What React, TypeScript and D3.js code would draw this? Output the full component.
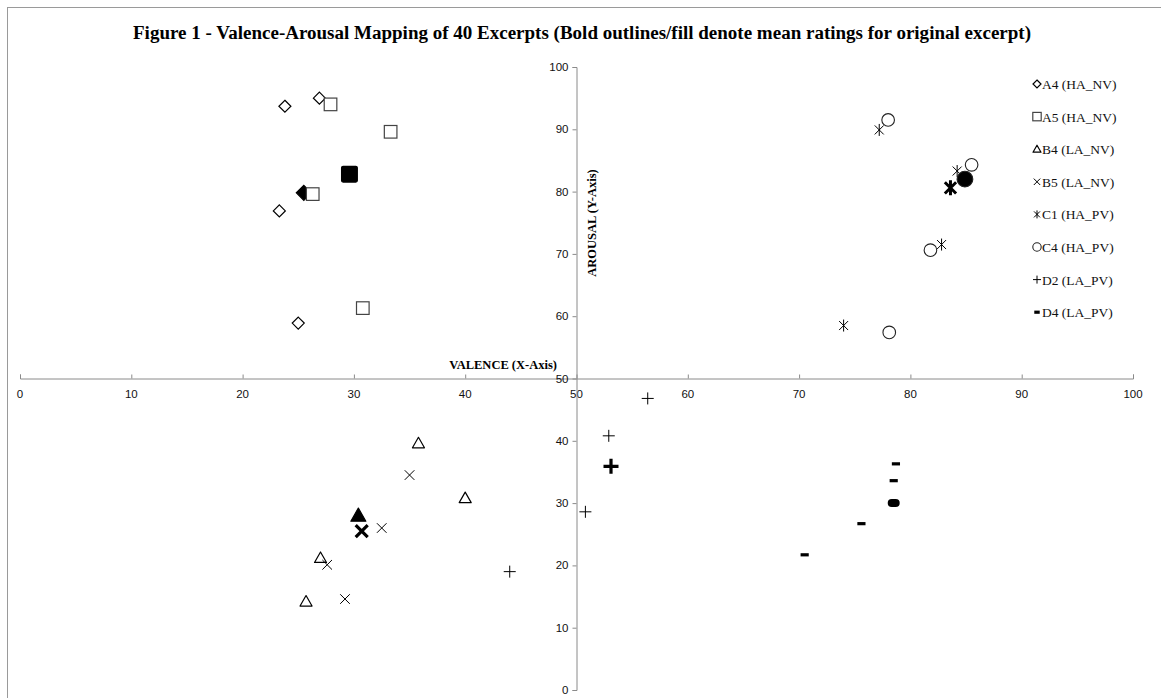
import React, { useEffect, useRef } from "react";
import * as d3 from "d3";

// ratings per excerpt: [valence, arousal]; *Mean = original excerpt (bold)
const a4Points = [[23.8, 93.7], [26.9, 95.0], [23.3, 76.9], [25.0, 58.9]];
const a4Mean = [25.5, 79.8];
const a5Points = [[27.9, 94.0], [33.3, 89.6], [26.3, 79.6], [30.8, 61.3]];
const a5Mean = [29.6, 82.8];
const b4Points = [[35.8, 39.6], [40.0, 30.8], [27.0, 21.2], [25.7, 14.2]];
const b4Mean = [30.4, 28.0];
const b5Points = [[35.0, 34.5], [32.5, 26.0], [27.6, 20.1], [29.2, 14.6]];
const b5Mean = [30.7, 25.5];
const c1Points = [[77.2, 89.9], [84.2, 83.3], [82.8, 71.5], [74.0, 58.5]];
const c1Mean = [83.6, 80.6];
const c4Points = [[78.0, 91.5], [85.5, 84.3], [81.8, 70.6], [78.1, 57.4]];
const c4Mean = [84.9, 82.0];
const d2Points = [[56.4, 46.8], [52.9, 40.8], [50.8, 28.6], [44.0, 19.0]];
const d2Mean = [53.1, 35.9];
const d4Points = [[78.7, 36.3], [78.5, 33.6], [75.6, 26.7], [70.5, 21.7]];
const d4Mean = [78.5, 30.0];

const seriesNames = ["A4 (HA_NV)", "A5 (HA_NV)", "B4 (LA_NV)", "B5 (LA_NV)", "C1 (HA_PV)", "C4 (HA_PV)", "D2 (LA_PV)", "D4 (LA_PV)"];
const seriesShapes = ["diamond", "square", "triangle", "x", "star", "circle", "plus", "dash"];
const seriesPoints = [a4Points, a5Points, b4Points, b5Points, c1Points, c4Points, d2Points, d4Points];
const seriesMeans = [a4Mean, a5Mean, b4Mean, b5Mean, c1Mean, c4Mean, d2Mean, d4Mean];

const xTicks = [0, 10, 20, 30, 40, 50, 60, 70, 80, 90, 100];
const yTicks = [0, 10, 20, 30, 40, 50, 60, 70, 80, 90, 100];

const W = 1161;
const H = 698;

// draw one marker centred on (0,0) into group g
function marker(g, shape, bold, s) {
  const k = bold ? 1.25 : 1;
  const r = s * k;
  if (shape === "diamond") {
    g.append("path").attr("d", `M0,${-r}L${r},0L0,${r}L${-r},0Z`)
      .attr("fill", bold ? "#000" : "#fff").attr("stroke", "#000").attr("stroke-width", 1.2);
  } else if (shape === "square") {
    const h = r * 1.05;
    g.append("rect").attr("x", -h).attr("y", -h).attr("width", 2 * h).attr("height", 2 * h)
      .attr("rx", bold ? 1.5 : 0)
      .attr("fill", bold ? "#000" : "#fff").attr("stroke", bold ? "#000" : "#444").attr("stroke-width", 1.2);
  } else if (shape === "triangle") {
    g.append("path").attr("d", `M0,${-r}L${r},${r * 0.75}L${-r},${r * 0.75}Z`)
      .attr("fill", bold ? "#000" : "#fff").attr("stroke", "#000").attr("stroke-width", 1.2)
      .attr("stroke-linejoin", "round");
  } else if (shape === "circle") {
    g.append("circle").attr("r", r * 1.05)
      .attr("fill", bold ? "#000" : "#fff").attr("stroke", "#222").attr("stroke-width", 1.1);
  } else if (shape === "x") {
    const a = r * 0.8;
    g.append("path").attr("d", `M${-a},${-a}L${a},${a}M${-a},${a}L${a},${-a}`)
      .attr("stroke", "#000").attr("stroke-width", bold ? 3.2 : 1).attr("fill", "none");
  } else if (shape === "star") {
    const a = r * 0.75;
    g.append("path").attr("d", `M${-a},${-a}L${a},${a}M${-a},${a}L${a},${-a}M0,${-r}L0,${r}`)
      .attr("stroke", "#000").attr("stroke-width", bold ? 3 : 1).attr("fill", "none");
  } else if (shape === "plus") {
    g.append("path").attr("d", `M${-r},0L${r},0M0,${-r}L0,${r}`)
      .attr("stroke", "#000").attr("stroke-width", bold ? 3.2 : 1).attr("fill", "none");
  } else if (shape === "dash") {
    if (bold) {
      g.append("rect").attr("x", -6).attr("y", -4).attr("width", 12).attr("height", 8)
        .attr("rx", 4).attr("fill", "#000");
    } else {
      const w = s * 0.68;
      g.append("rect").attr("x", -w).attr("y", -1.6).attr("width", 2 * w).attr("height", 3.2).attr("fill", "#000");
    }
  }
}

export default function App() {
  const svgRef = useRef(null);

  useEffect(() => {
    const svg = d3.select(svgRef.current);
    svg.selectAll("*").remove();

    const x = d3.scaleLinear().domain([0, 100]).range([20, 1133]);
    const y = d3.scaleLinear().domain([0, 100]).range([690, 67]);

    // chart area border
    svg.append("rect").attr("x", 7.5).attr("y", 7.5).attr("width", W).attr("height", H)
      .attr("fill", "#fff").attr("stroke", "#9a9a9a");

    svg.append("text").attr("x", 582).attr("y", 39).attr("text-anchor", "middle")
      .attr("font-family", "Liberation Serif").attr("font-weight", "bold").attr("font-size", 18)
      .attr("textLength", 898).attr("lengthAdjust", "spacingAndGlyphs")
      .text("Figure 1 - Valence-Arousal Mapping of 40 Excerpts (Bold outlines/fill denote mean ratings for original excerpt)");

    const axisColor = "#8a8a8a";
    // x axis (crosses at arousal 50)
    const xAxis = svg.append("g").attr("transform", `translate(0,${y(50)})`)
      .call(d3.axisTop(x).tickValues(xTicks).tickSize(4).tickFormat(() => ""));
    xAxis.select(".domain").attr("stroke", axisColor);
    xAxis.selectAll(".tick line").attr("stroke", axisColor);
    svg.append("g").selectAll("text").data(xTicks).enter().append("text")
      .attr("x", (d) => x(d)).attr("y", y(50) + 19).attr("text-anchor", "middle")
      .attr("font-family", "Liberation Sans").attr("font-size", 11.5).attr("fill", "#111")
      .text((d) => d);

    // y axis (crosses at valence 50)
    const yAxis = svg.append("g").attr("transform", `translate(${x(50)},0)`)
      .call(d3.axisLeft(y).tickValues(yTicks).tickSize(4).tickFormat(() => ""));
    yAxis.select(".domain").attr("stroke", axisColor);
    yAxis.selectAll(".tick line").attr("stroke", axisColor);
    svg.append("g").selectAll("text").data(yTicks).enter().append("text")
      .attr("x", x(50) - 8).attr("y", (d) => y(d) + 4).attr("text-anchor", "end")
      .attr("font-family", "Liberation Sans").attr("font-size", 11.5).attr("fill", "#111")
      .text((d) => d);

    svg.append("text").attr("x", 557).attr("y", 369).attr("text-anchor", "end")
      .attr("font-family", "Liberation Serif").attr("font-weight", "bold").attr("font-size", 12.5)
      .text("VALENCE (X-Axis)");
    svg.append("text").attr("transform", `translate(596,223) rotate(-90)`).attr("text-anchor", "middle")
      .attr("font-family", "Liberation Serif").attr("font-weight", "bold").attr("font-size", 12.5)
      .text("AROUSAL (Y-Axis)");

    // points
    const plot = svg.append("g");
    seriesShapes.forEach((shape, i) => {
      seriesPoints[i].forEach((p) => {
        const g = plot.append("g").attr("transform", `translate(${x(p[0])},${y(p[1])})`);
        marker(g, shape, false, 6);
      });
      const m = seriesMeans[i];
      const gm = plot.append("g").attr("transform", `translate(${x(m[0])},${y(m[1])})`);
      marker(gm, shape, true, 6);
    });

    // legend
    const legend = svg.append("g");
    seriesNames.forEach((name, i) => {
      const ly = 84 + i * 32.6;
      const g = legend.append("g").attr("transform", `translate(1037,${ly})`);
      const mg = g.append("g");
      marker(mg, seriesShapes[i], false, 4);
      g.append("text").attr("x", 5).attr("y", 5).attr("font-family", "Liberation Serif")
        .attr("font-size", 13.5).attr("fill", "#111").text(name);
    });
  }, []);

  return (
    <svg ref={svgRef} width={W} height={H} style={{ position: "absolute", left: 0, top: 0 }} />
  );
}
